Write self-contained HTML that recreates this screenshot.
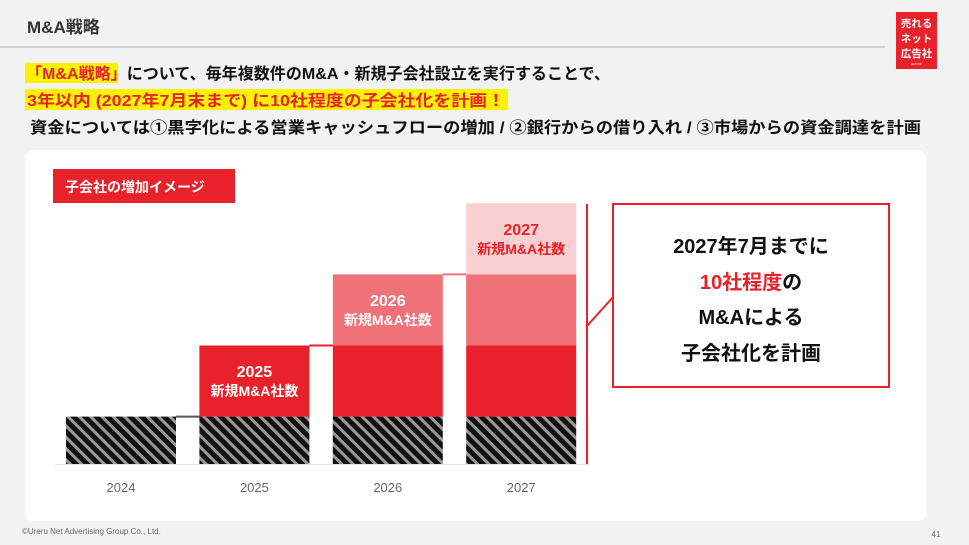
<!DOCTYPE html>
<html><head><meta charset="utf-8"><style>
html,body{margin:0;padding:0;background:#f2f2f2;}
svg{display:block;font-family:"Liberation Sans","Noto Sans CJK JP",sans-serif;}
</style></head><body>
<svg id="s" width="969" height="545" viewBox="0 0 969 545">
<defs>
<pattern id="hatch" patternUnits="userSpaceOnUse" width="8" height="8" patternTransform="rotate(-45)">
<rect width="8" height="8" fill="#111"/><rect width="3" height="8" fill="#9a9a9a"/>
</pattern>
</defs>
<rect width="969" height="545" fill="#f2f2f2"/>
<text x="27" y="33" font-size="17" font-weight="bold" fill="#333">M&amp;A戦略</text>
<line x1="0" y1="47" x2="885" y2="47" stroke="#c8c8c8" stroke-width="1.5"/>
<g>
<rect x="896" y="12" width="41" height="57" fill="#e8212a"/>
<text x="916.5" y="27" font-size="10.5" font-weight="bold" fill="#fff" text-anchor="middle">売れる</text>
<text x="916.5" y="42" font-size="10.5" font-weight="bold" fill="#fff" text-anchor="middle">ネット</text>
<text x="916.5" y="57" font-size="10.5" font-weight="bold" fill="#fff" text-anchor="middle">広告社</text>
<text x="916.5" y="65" font-size="3" fill="#fff" text-anchor="middle">GROUP</text>
</g>
<rect x="25" y="63" width="93" height="20" fill="#fff200"/>
<text x="26" y="79" font-size="16" font-weight="bold" textLength="584" lengthAdjust="spacingAndGlyphs"><tspan fill="#e8212a">「M&amp;A戦略」</tspan><tspan fill="#111">について、毎年複数件のM&amp;A・新規子会社設立を実行することで、</tspan></text>
<rect x="25" y="89" width="483" height="21" fill="#fff200"/>
<text x="27" y="106" font-size="16" font-weight="bold" fill="#e8212a" textLength="478" lengthAdjust="spacingAndGlyphs">3年以内 (2027年7月末まで) に10社程度の子会社化を計画！</text>
<text x="30" y="133" font-size="16" font-weight="bold" fill="#111" textLength="891" lengthAdjust="spacingAndGlyphs">資金については①黒字化による営業キャッシュフローの増加 / ②銀行からの借り入れ / ③市場からの資金調達を計画</text>
<rect x="25" y="150" width="901" height="371" rx="8" fill="#fff"/>
<rect x="53" y="169" width="182" height="34" fill="#e8212a"/>
<text x="65" y="192" font-size="14" font-weight="bold" fill="#fff">子会社の増加イメージ</text>
<g id="chart"></g>
<g>
<line x1="587" y1="204" x2="587" y2="464" stroke="#e8212a" stroke-width="2"/>
<line x1="587" y1="326" x2="614" y2="296" stroke="#e8212a" stroke-width="2"/>
<rect x="613" y="204" width="276" height="183" fill="#fff" stroke="#e8212a" stroke-width="2"/>
<text x="751" y="253" font-size="20" font-weight="bold" fill="#111" text-anchor="middle">2027年7月までに</text>
<text x="751" y="289" font-size="20" font-weight="bold" text-anchor="middle"><tspan fill="#e8212a">10社程度</tspan><tspan fill="#111">の</tspan></text>
<text x="751" y="324" font-size="20" font-weight="bold" fill="#111" text-anchor="middle">M&amp;Aによる</text>
<text x="751" y="360" font-size="20" font-weight="bold" fill="#111" text-anchor="middle">子会社化を計画</text>
</g>
<text x="22" y="534" font-size="8" fill="#666">©Ureru Net Advertising Group Co., Ltd.</text>
<text x="936" y="537" font-size="8" fill="#666" text-anchor="middle">41</text>
</svg>
<script>
const categories = ['2024','2025','2026','2027'];
const baseValues = [2,2,2,2];
const add2025 = [0,3,3,3];
const add2026 = [0,0,3,3];
const add2027 = [0,0,0,3];
const segLabels = ['', '2025\n新規M&A社数', '2026\n新規M&A社数', '2027\n新規M&A社数'];
const NS='http://www.w3.org/2000/svg';
const g=document.getElementById('chart');
const baseY=464, unit=23.7;
const y=v=>baseY-v*unit;
const x0=66, step=133.4, bw=110;
const xPos=i=>x0+i*step;
const series=[
 {vals:baseValues, fill:'url(#hatch)', name:'existing'},
 {vals:add2025, fill:'#e8212a', txt:'#fff', name:'new-2025'},
 {vals:add2026, fill:'#f07178', txt:'#fff', name:'new-2026'},
 {vals:add2027, fill:'#f9cfd2', txt:'#e8212a', name:'new-2027'}
];
function mk(t,a){const e=document.createElementNS(NS,t);for(const k in a)e.setAttribute(k,a[k]);return e;}
const ax=mk('line',{x1:55,y1:baseY+0.5,x2:590,y2:baseY+0.5,stroke:'#e5e5e5','stroke-width':1});


g.appendChild(ax);
const tops=categories.map(()=>0);
categories.forEach((c,i)=>{
  let cum=0;
  series.forEach((s,si)=>{
    const v=s.vals[i]; if(!v) return;
    const r=mk('rect',{x:xPos(i),y:y(cum+v),width:bw,height:v*unit,fill:s.fill});
    
    
    g.appendChild(r);
    if(si===i && si>0){
      const lines=segLabels[si].split('\n');
      const cy=y(cum+v)+v*unit/2;
      lines.forEach((ln,k)=>{
        const t=mk('text',{x:xPos(i)+bw/2,y:cy-4+k*19,'font-size':k?14:16,'font-weight':'bold',fill:s.txt,'text-anchor':'middle'});
        t.textContent=ln;
        
        
        g.appendChild(t);
      });
    }
    cum+=v;
  });
  tops[i]=cum;
  const tl=mk('text',{x:xPos(i)+bw/2,y:492,'font-size':13,fill:'#666','text-anchor':'middle'});
  tl.textContent=c;
  
  
  g.appendChild(tl);
});
const connColors=['#555','#e8212a','#f07178'];
for(let i=0;i<categories.length-1;i++){
  const l=mk('line',{x1:xPos(i)+bw,y1:y(tops[i]),x2:xPos(i+1),y2:y(tops[i]),stroke:connColors[i]||'#999','stroke-width':2});
  
  
  g.appendChild(l);
}
</script>
</body></html>
